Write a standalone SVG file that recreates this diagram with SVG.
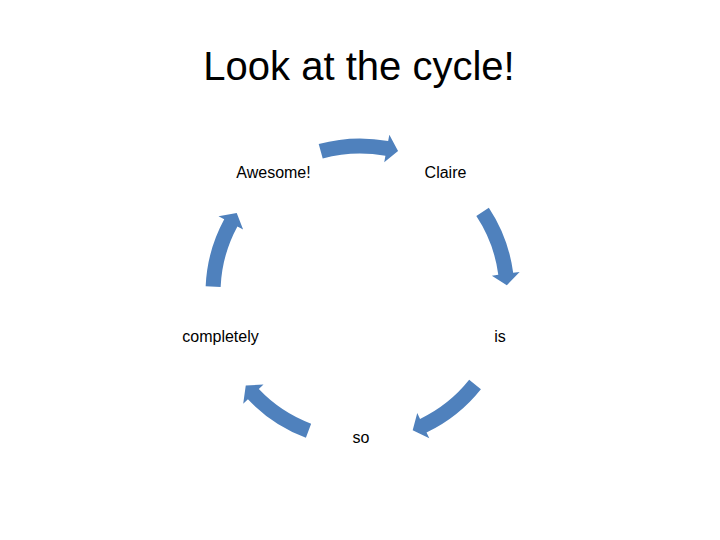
<svg xmlns="http://www.w3.org/2000/svg" xmlns:xlink="http://www.w3.org/1999/xlink" width="720" height="540" viewBox="0 0 720 540">
<style>
.title{font-family:"Liberation Sans",Arial,sans-serif;font-size:40px;fill:#000;text-anchor:middle}
.lbl{font-family:"Liberation Sans",Arial,sans-serif;font-size:16px;fill:#000;text-anchor:middle}
.arr{fill:#4F81BD;stroke:none}
</style>
<defs>
<path id="arrow" class="arr" d="M 318.71 144.12 A 154.5 154.5 0 0 1 388.16 141.09 L 389.34 134.70 L 398.05 151.01 L 384.24 162.23 L 385.42 155.84 A 139.5 139.5 0 0 0 322.72 158.57 Z"/>
</defs>
<rect width="720" height="540" fill="#fff"/>
<text class="title" x="359" y="80">Look at the cycle!</text>
<g id="connectors">
<use xlink:href="#arrow" href="#arrow"/>
<use xlink:href="#arrow" href="#arrow" transform="rotate(72 360 293)"/>
<use xlink:href="#arrow" href="#arrow" transform="rotate(144 360 293)"/>
<use xlink:href="#arrow" href="#arrow" transform="rotate(216 360 293)"/>
<use xlink:href="#arrow" href="#arrow" transform="rotate(288 360 293)"/>
</g>
<g id="node-claire"><text class="lbl" x="445.5" y="178">Claire</text></g>
<g id="node-is"><text class="lbl" x="500" y="342">is</text></g>
<g id="node-so"><text class="lbl" x="361" y="443">so</text></g>
<g id="node-completely"><text class="lbl" x="220.5" y="342">completely</text></g>
<g id="node-awesome"><text class="lbl" x="273.5" y="178">Awesome!</text></g>
</svg>
